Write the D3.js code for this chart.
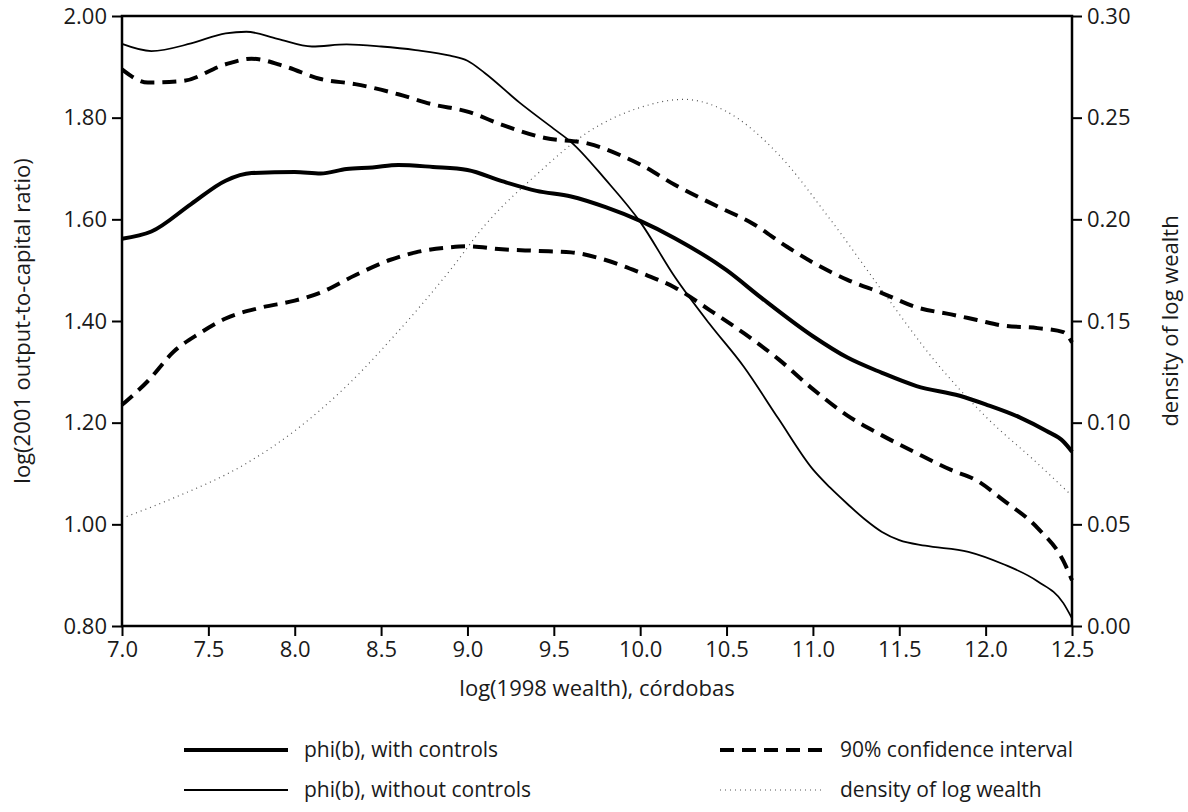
<!DOCTYPE html>
<html lang="en">
<head>
    <meta charset="UTF-8">
    <title>phi(b) and density of log wealth</title>
    <script src="https://d3js.org/d3.v7.min.js"></script>
    <style>
        body { margin: 0; background: #fff; }
        text { font-family: "Open Sans", Lato, sans-serif; fill: #1a1a1a; }
    </style>
</head>
<body>
    <script>
        // log(1998 wealth) and curve values
        const withCtrlX = [7.0, 7.17, 7.4, 7.6, 7.75, 8.0, 8.15, 8.3, 8.45, 8.6, 8.8, 9.0, 9.2, 9.4, 9.6, 9.8, 10.0, 10.2, 10.5, 10.7, 11.0, 11.2, 11.4, 11.6, 11.85, 12.0, 12.2, 12.35, 12.45, 12.5];
        const withCtrlY = [1.562, 1.576, 1.63, 1.676, 1.691, 1.693, 1.690, 1.699, 1.702, 1.707, 1.703, 1.697, 1.675, 1.656, 1.645, 1.624, 1.597, 1.563, 1.500, 1.446, 1.370, 1.328, 1.298, 1.272, 1.253, 1.236, 1.210, 1.184, 1.163, 1.143];

        const noCtrlX = [7.0, 7.17, 7.4, 7.6, 7.72, 7.9, 8.1, 8.3, 8.5, 8.7, 8.9, 9.0, 9.1, 9.3, 9.5, 9.6, 9.8, 10.0, 10.2, 10.4, 10.6, 10.8, 11.0, 11.1, 11.2, 11.3, 11.4, 11.5, 11.65, 11.9, 12.1, 12.3, 12.45, 12.5];
        const noCtrlY = [1.945, 1.931, 1.946, 1.966, 1.969, 1.955, 1.940, 1.944, 1.940, 1.933, 1.922, 1.912, 1.888, 1.830, 1.778, 1.752, 1.678, 1.595, 1.487, 1.395, 1.310, 1.208, 1.108, 1.072, 1.040, 1.010, 0.985, 0.969, 0.958, 0.946, 0.922, 0.888, 0.845, 0.815];

        const ciHiX = [7.0, 7.15, 7.35, 7.6, 7.75, 7.95, 8.15, 8.35, 8.6, 8.8, 9.0, 9.2, 9.45, 9.7, 9.9, 10.0, 10.2, 10.45, 10.65, 10.85, 11.0, 11.2, 11.4, 11.6, 11.8, 11.95, 12.1, 12.3, 12.45, 12.5];
        const ciHiY = [1.895, 1.869, 1.872, 1.905, 1.916, 1.900, 1.876, 1.866, 1.846, 1.826, 1.812, 1.786, 1.760, 1.749, 1.724, 1.708, 1.668, 1.625, 1.592, 1.546, 1.515, 1.481, 1.455, 1.427, 1.413, 1.402, 1.391, 1.386, 1.378, 1.358];

        const ciLoX = [7.0, 7.15, 7.3, 7.45, 7.6, 7.8, 8.0, 8.15, 8.35, 8.55, 8.7, 8.9, 9.0, 9.2, 9.4, 9.6, 9.8, 10.0, 10.2, 10.4, 10.6, 10.8, 11.0, 11.2, 11.4, 11.6, 11.8, 11.95, 12.1, 12.3, 12.45, 12.5];
        const ciLoY = [1.235, 1.282, 1.340, 1.376, 1.405, 1.426, 1.440, 1.456, 1.490, 1.520, 1.535, 1.545, 1.547, 1.541, 1.538, 1.535, 1.520, 1.495, 1.466, 1.422, 1.376, 1.325, 1.266, 1.214, 1.175, 1.140, 1.107, 1.086, 1.048, 0.993, 0.928, 0.890];

        const densX = [7.0, 7.3, 7.7, 8.0, 8.3, 8.6, 8.9, 9.1, 9.4, 9.7, 10.0, 10.25, 10.5, 10.8, 11.1, 11.4, 11.7, 12.0, 12.3, 12.5];
        const densY = [0.053, 0.063, 0.079, 0.096, 0.118, 0.145, 0.175, 0.197, 0.222, 0.243, 0.255, 0.259, 0.253, 0.232, 0.200, 0.165, 0.131, 0.103, 0.080, 0.064];

        const xTicks = [7.0, 7.5, 8.0, 8.5, 9.0, 9.5, 10.0, 10.5, 11.0, 11.5, 12.0, 12.5];
        const yLeftTicks = [0.80, 1.00, 1.20, 1.40, 1.60, 1.80, 2.00];
        const yRightTicks = [0.00, 0.05, 0.10, 0.15, 0.20, 0.25, 0.30];

        const width = 1188, height = 812;
        const marginTop = 16, marginRight = 116, marginBottom = 186, marginLeft = 122;
        const tickFont = "22px", titleFont = "22px", legendFont = "21px";

        const x = d3.scaleLinear().domain([7, 12.5]).range([marginLeft, width - marginRight]);
        const yL = d3.scaleLinear().domain([0.8, 2.0]).range([height - marginBottom, marginTop]);
        const yR = d3.scaleLinear().domain([0, 0.3]).range([height - marginBottom, marginTop]);

        const svg = d3.select("body").append("svg")
            .attr("width", width)
            .attr("height", height);

        const zip = (xs, ys) => xs.map((v, i) => [v, ys[i]]);
        const lineL = d3.line().x(d => x(d[0])).y(d => yL(d[1])).curve(d3.curveMonotoneX);
        const lineR = d3.line().x(d => x(d[0])).y(d => yR(d[1])).curve(d3.curveMonotoneX);

        const styles = {
            thick: { width: 4, dash: null, color: "#000" },
            thin: { width: 1.8, dash: null, color: "#000" },
            dash: { width: 4, dash: "14,8", color: "#000" },
            dot: { width: 1.2, dash: "1,4", color: "#555" }
        };

        function draw(path, s) {
            path.attr("fill", "none")
                .attr("stroke", s.color)
                .attr("stroke-width", s.width)
                .attr("stroke-dasharray", s.dash);
        }

        // curves
        const g = svg.append("g");
        g.append("path").attr("d", lineR(zip(densX, densY))).call(draw, styles.dot);
        g.append("path").attr("d", lineL(zip(ciHiX, ciHiY))).call(draw, styles.dash);
        g.append("path").attr("d", lineL(zip(ciLoX, ciLoY))).call(draw, styles.dash);
        g.append("path").attr("d", lineL(zip(noCtrlX, noCtrlY))).call(draw, styles.thin);
        g.append("path").attr("d", lineL(zip(withCtrlX, withCtrlY))).call(draw, styles.thick);

        // axes
        const axisStyle = sel => {
            sel.select(".domain").remove();
            sel.selectAll("line").attr("stroke", "#000").attr("stroke-width", 2);
            sel.selectAll("text").style("font-size", tickFont).attr("fill", "#1a1a1a");
        };

        svg.append("g")
            .attr("transform", `translate(0,${height - marginBottom})`)
            .call(d3.axisBottom(x).tickValues(xTicks).tickFormat(d3.format(".1f")).tickSize(10).tickPadding(5))
            .call(axisStyle);

        svg.append("g")
            .attr("transform", `translate(${marginLeft},0)`)
            .call(d3.axisLeft(yL).tickValues(yLeftTicks).tickFormat(d3.format(".2f")).tickSize(10).tickPadding(5))
            .call(axisStyle);

        svg.append("g")
            .attr("transform", `translate(${width - marginRight},0)`)
            .call(d3.axisRight(yR).tickValues(yRightTicks).tickFormat(d3.format(".2f")).tickSize(10).tickPadding(5))
            .call(axisStyle);

        // frame
        svg.append("rect")
            .attr("x", marginLeft).attr("y", marginTop)
            .attr("width", width - marginLeft - marginRight)
            .attr("height", height - marginTop - marginBottom)
            .attr("fill", "none").attr("stroke", "#000").attr("stroke-width", 2.5);

        // axis titles
        svg.append("text")
            .attr("x", (marginLeft + width - marginRight) / 2)
            .attr("y", 696)
            .attr("text-anchor", "middle")
            .style("font-size", titleFont)
            .text("log(1998 wealth), córdobas");

        svg.append("text")
            .attr("transform", `translate(30,${(marginTop + height - marginBottom) / 2}) rotate(-90)`)
            .attr("text-anchor", "middle")
            .style("font-size", titleFont)
            .text("log(2001 output-to-capital ratio)");

        svg.append("text")
            .attr("transform", `translate(1178,${(marginTop + height - marginBottom) / 2}) rotate(-90)`)
            .attr("text-anchor", "middle")
            .style("font-size", titleFont)
            .text("density of log wealth");

        // legend
        const legend = [
            { label: "phi(b), with controls", s: styles.thick, lx: 184, ly: 750 },
            { label: "phi(b), without controls", s: styles.thin, lx: 184, ly: 790 },
            { label: "90% confidence interval", s: styles.dash, lx: 720, ly: 750 },
            { label: "density of log wealth", s: styles.dot, lx: 720, ly: 790 }
        ];

        const lg = svg.append("g").selectAll("g").data(legend).join("g")
            .attr("transform", d => `translate(${d.lx},${d.ly})`);

        lg.append("line")
            .attr("x1", 0).attr("x2", 104)
            .attr("y1", 0).attr("y2", 0)
            .each(function(d) { d3.select(this).call(draw, d.s); });

        lg.append("text")
            .attr("x", 120)
            .attr("y", 0)
            .attr("dy", "0.35em")
            .style("font-size", legendFont)
            .text(d => d.label);
    </script>
</body>
</html>
